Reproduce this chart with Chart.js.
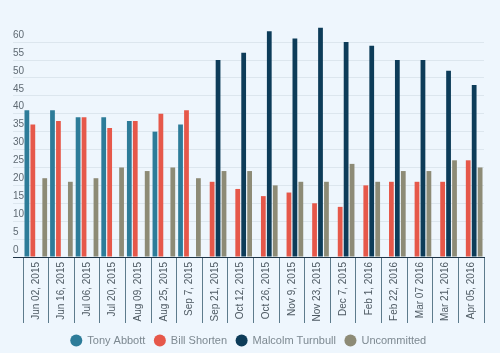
<!DOCTYPE html>
<html>
<head>
<meta charset="utf-8">
<script src="https://cdn.jsdelivr.net/npm/chart.js@4/dist/chart.umd.min.js"></script>
<style>
    html, body { margin: 0; padding: 0; background: #eef6fd; }
    #wrap { width: 500px; height: 353px; }
</style>
</head>
<body>
<div id="wrap"><canvas id="myChart" width="500" height="353"></canvas></div>
<script>
// poll dates
const labels = ["Jun 02, 2015", "Jun 16, 2015", "Jul 06, 2015", "Jul 20, 2015", "Aug 09, 2015", "Aug 25, 2015",
    "Sep 7, 2015", "Sep 21, 2015", "Oct 12, 2015", "Oct 26, 2015", "Nov 9, 2015", "Nov 23, 2015",
    "Dec 7, 2015", "Feb 1, 2016", "Feb 22, 2016", "Mar 07 2016", "Mar 21, 2016", "Apr 05, 2016"]

// series
const abbott = [41, 41, 39, 39, 38, 35, 37, null, null, null, null, null, null, null, null, null, null, null]
const shorten = [37, 38, 39, 36, 38, 40, 41, 21, 19, 17, 18, 15, 14, 20, 21, 21, 21, 27]
const turnbull = [null, null, null, null, null, null, null, 55, 57, 63, 61, 64, 60, 59, 55, 55, 52, 48]
const uncommitted = [22, 21, 22, 25, 24, 25, 22, 24, 24, 20, 21, 21, 26, 21, 24, 24, 27, 25]

// y axis ticks
const yTicks = [0, 5, 10, 15, 20, 25, 30, 35, 40, 45, 50, 55, 60]

const axisColor = '#1d3447'
const gridColor = '#dce6ee'

let ctx = document.getElementById('myChart').getContext('2d');
let myChart = new Chart(ctx, {
    type: 'bar',
    data: {
        labels: labels,
        datasets: [
            { label: 'Tony Abbott', data: abbott, backgroundColor: '#2d7c99' },
            { label: 'Bill Shorten', data: shorten, backgroundColor: '#e6584a' },
            { label: 'Malcolm Turnbull', data: turnbull, backgroundColor: '#0d3c59' },
            { label: 'Uncommitted', data: uncommitted, backgroundColor: '#8d8b76' }
        ]
    },
    options: {
        responsive: false,
        animation: false,
        categoryPercentage: 0.93,
        barPercentage: 0.8,
        layout: { padding: { left: 13, right: 16, top: 26, bottom: -3 } },
        plugins: {
            tooltip: { enabled: false },
            legend: {
                position: 'bottom',
                labels: {
                    usePointStyle: true,
                    pointStyle: 'circle',
                    boxHeight: 8.5,
                    padding: 9,
                    color: '#7d8991',
                    font: { family: 'Liberation Sans, Arial', size: 11 }
                }
            }
        },
        scales: {
            x: {
                // long tick marks between categories
                grid: {
                    offset: true,
                    drawOnChartArea: false,
                    tickLength: 66,
                    color: '#5d7b8c'
                },
                border: { display: true, color: axisColor, width: 1 },
                ticks: {
                    minRotation: 90,
                    maxRotation: 90,
                    autoSkip: false,
                    padding: -61,
                    color: '#4e5a63',
                    font: { family: 'Liberation Sans, Arial', size: 10 }
                },
                afterFit: (scale) => { scale.height = 69 }
            },
            y: {
                min: 0,
                max: 64.5,
                border: { display: false },
                grid: {
                    tickLength: 10,
                    color: (c) => c.tick && c.tick.value === 0 ? axisColor : gridColor
                },
                ticks: {
                    stepSize: 5,
                    mirror: true,
                    padding: -10,
                    labelOffset: -7,
                    color: '#5f6a73',
                    font: { family: 'Liberation Sans, Arial', size: 10 }
                },
                afterBuildTicks: (scale) => {
                    scale.ticks = yTicks.map(v => ({ value: v }))
                },
                afterFit: (scale) => { scale.width = 10 }
            }
        }
    }
});
</script>
</body>
</html>
